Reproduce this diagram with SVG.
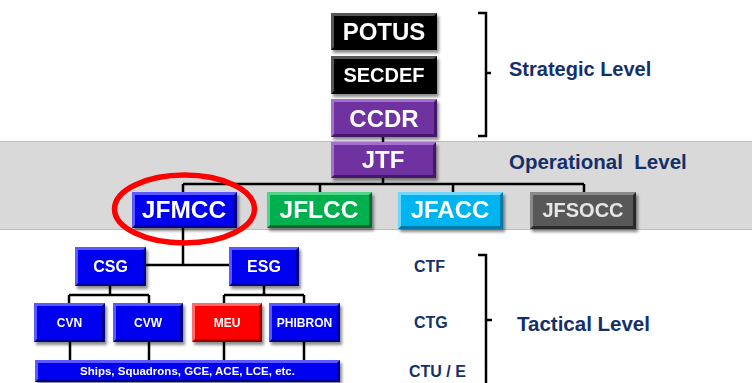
<svg xmlns="http://www.w3.org/2000/svg" width="752" height="383" viewBox="0 0 752 383">
<defs>
<filter id="sh" x="-10%" y="-10%" width="130%" height="140%">
<feDropShadow dx="2" dy="3" stdDeviation="1.5" flood-color="#000" flood-opacity="0.45"/>
</filter>
<style>
.node{filter:url(#sh)}
.t{font-family:"Liberation Sans",Arial,sans-serif;font-weight:bold;fill:#fff;text-anchor:middle}
.lbl{font-family:"Liberation Sans",Arial,sans-serif;font-weight:bold;fill:#13306b}
.k .dk{fill:#000}.k .lt{fill:#555}.k .fc{fill:#050505}
.p .dk{fill:#45186a}.p .lt{fill:#a36fcf}.p .fc{fill:#7030a0}
.b .dk{fill:#00008a}.b .lt{fill:#5a5aff}.b .fc{fill:#0000f0}
.g .dk{fill:#006b30}.g .lt{fill:#4fd48a}.g .fc{fill:#00b050}
.c .dk{fill:#007aa8}.c .lt{fill:#6fd8ff}.c .fc{fill:#00b4f0}
.d .dk{fill:#2a2a2a}.d .lt{fill:#8a8a8a}.d .fc{fill:#595959}
.r .dk{fill:#9a0000}.r .lt{fill:#ff6a6a}.r .fc{fill:#ff0000}
.conn path{stroke:#000;stroke-width:2.5;fill:none}
.br{stroke:#000;stroke-width:2.5;fill:none}
</style>
</defs>
<rect width="752" height="383" fill="#fff"/>
<rect x="0" y="141" width="752" height="89" fill="#d9d9d9"/>
<path d="M0 141.5H752M0 229.5H752" stroke="#bdbdbd" stroke-width="1"/>

<g class="conn">
<path d="M383 137V142"/>
<path d="M383 178V184M183 184H584M183 184V192M320 184V192M453 184V192M584 184V192"/>
<path d="M183 228V265M146 265H229"/>
<path d="M110 286V295M69 295H149M69 295V303M149 295V303"/>
<path d="M264 286V295M224 295H304M224 295V303M304 295V303"/>
<path d="M70 342V360M149 342V360M224 342V360M304 342V360"/>
</g>

<g id="POTUS" class="node k">
<rect class="dk" x="331" y="13" width="106" height="37"/>
<polygon class="lt" points="331,13 437,13 434,16 334,16 334,47 331,50"/>
<rect class="fc" x="334" y="16" width="100" height="31"/>
<text class="t" x="384" y="40" font-size="24">POTUS</text>
</g>
<g id="SECDEF" class="node k">
<rect class="dk" x="331" y="56" width="106" height="38"/>
<polygon class="lt" points="331,56 437,56 434,59 334,59 334,91 331,94"/>
<rect class="fc" x="334" y="59" width="100" height="32"/>
<text class="t" x="384" y="82" font-size="20">SECDEF</text>
</g>
<g id="CCDR" class="node p">
<rect class="dk" x="331" y="99" width="106" height="38"/>
<polygon class="lt" points="331,99 437,99 434,102 334,102 334,134 331,137"/>
<rect class="fc" x="334" y="102" width="100" height="32"/>
<text class="t" x="384" y="127" font-size="24">CCDR</text>
</g>
<g id="JTF" class="node p">
<rect class="dk" x="331" y="142" width="105" height="36"/>
<polygon class="lt" points="331,142 436,142 433,145 334,145 334,175 331,178"/>
<rect class="fc" x="334" y="145" width="99" height="30"/>
<text class="t" x="383" y="168" font-size="24">JTF</text>
</g>
<g id="JFMCC" class="node b">
<rect class="dk" x="132" y="192" width="105" height="36"/>
<polygon class="lt" points="132,192 237,192 234,195 135,195 135,225 132,228"/>
<rect class="fc" x="135" y="195" width="99" height="30"/>
<text class="t" x="184" y="218" font-size="24.5">JFMCC</text>
</g>
<g id="JFLCC" class="node g">
<rect class="dk" x="267" y="192" width="105" height="36"/>
<polygon class="lt" points="267,192 372,192 369,195 270,195 270,225 267,228"/>
<rect class="fc" x="270" y="195" width="99" height="30"/>
<text class="t" x="319" y="218" font-size="24.5">JFLCC</text>
</g>
<g id="JFACC" class="node c">
<rect class="dk" x="398" y="192" width="105" height="37"/>
<polygon class="lt" points="398,192 503,192 500,195 401,195 401,226 398,229"/>
<rect class="fc" x="401" y="195" width="99" height="31"/>
<text class="t" x="450" y="218" font-size="24">JFACC</text>
</g>
<g id="JFSOCC" class="node d">
<rect class="dk" x="530" y="192" width="106" height="37"/>
<polygon class="lt" points="530,192 636,192 633,195 533,195 533,226 530,229"/>
<rect class="fc" x="533" y="195" width="100" height="31"/>
<text class="t" x="583" y="217" font-size="20" style="fill:#e6e6e6">JFSOCC</text>
</g>

<ellipse cx="184.5" cy="209" rx="70" ry="34" fill="none" stroke="#ff0000" stroke-width="5.5"/>

<g id="CSG" class="node b">
<rect class="dk" x="75" y="247" width="71" height="39"/>
<polygon class="lt" points="75,247 146,247 143,250 78,250 78,283 75,286"/>
<rect class="fc" x="78" y="250" width="65" height="33"/>
<text class="t" x="110.5" y="272" font-size="16">CSG</text>
</g>
<g id="ESG" class="node b">
<rect class="dk" x="229" y="247" width="70" height="39"/>
<polygon class="lt" points="229,247 299,247 296,250 232,250 232,283 229,286"/>
<rect class="fc" x="232" y="250" width="64" height="33"/>
<text class="t" x="264" y="272" font-size="16">ESG</text>
</g>
<g id="CVN" class="node b">
<rect class="dk" x="34" y="303" width="71" height="39"/>
<polygon class="lt" points="34,303 105,303 102,306 37,306 37,339 34,342"/>
<rect class="fc" x="37" y="306" width="65" height="33"/>
<text class="t" x="69.5" y="327" font-size="12">CVN</text>
</g>
<g id="CVW" class="node b">
<rect class="dk" x="113" y="303" width="70" height="39"/>
<polygon class="lt" points="113,303 183,303 180,306 116,306 116,339 113,342"/>
<rect class="fc" x="116" y="306" width="64" height="33"/>
<text class="t" x="148" y="327" font-size="12">CVW</text>
</g>
<g id="MEU" class="node r">
<rect class="dk" x="192" y="303" width="70" height="39"/>
<polygon class="lt" points="192,303 262,303 259,306 195,306 195,339 192,342"/>
<rect class="fc" x="195" y="306" width="64" height="33"/>
<text class="t" x="227" y="327" font-size="12">MEU</text>
</g>
<g id="PHIBRON" class="node b">
<rect class="dk" x="269" y="303" width="71" height="39"/>
<polygon class="lt" points="269,303 340,303 337,306 272,306 272,339 269,342"/>
<rect class="fc" x="272" y="306" width="65" height="33"/>
<text class="t" x="304.5" y="327" font-size="12">PHIBRON</text>
</g>
<g id="Ships" class="node b">
<rect class="dk" x="35" y="360" width="305" height="22"/>
<polygon class="lt" points="35,360 340,360 337,363 38,363 38,379 35,382"/>
<rect class="fc" x="38" y="363" width="299" height="16"/>
<text class="t" x="187.5" y="374.5" font-size="11.5">Ships, Squadrons, GCE, ACE, LCE, etc.</text>
</g>

<path class="br" d="M478 13H486V136H478M486 73H491"/>
<path class="br" d="M478 255H486V383M486 320H492"/>

<text class="lbl" x="509" y="76" font-size="20">Strategic Level</text>
<text class="lbl" x="509" y="169" font-size="20.5" xml:space="preserve" style="white-space:pre">Operational  Level</text>
<text class="lbl" x="414" y="272" font-size="16">CTF</text>
<text class="lbl" x="414" y="328" font-size="16">CTG</text>
<text class="lbl" x="409" y="377" font-size="16">CTU / E</text>
<text class="lbl" x="517" y="331" font-size="20.5">Tactical Level</text>
</svg>
